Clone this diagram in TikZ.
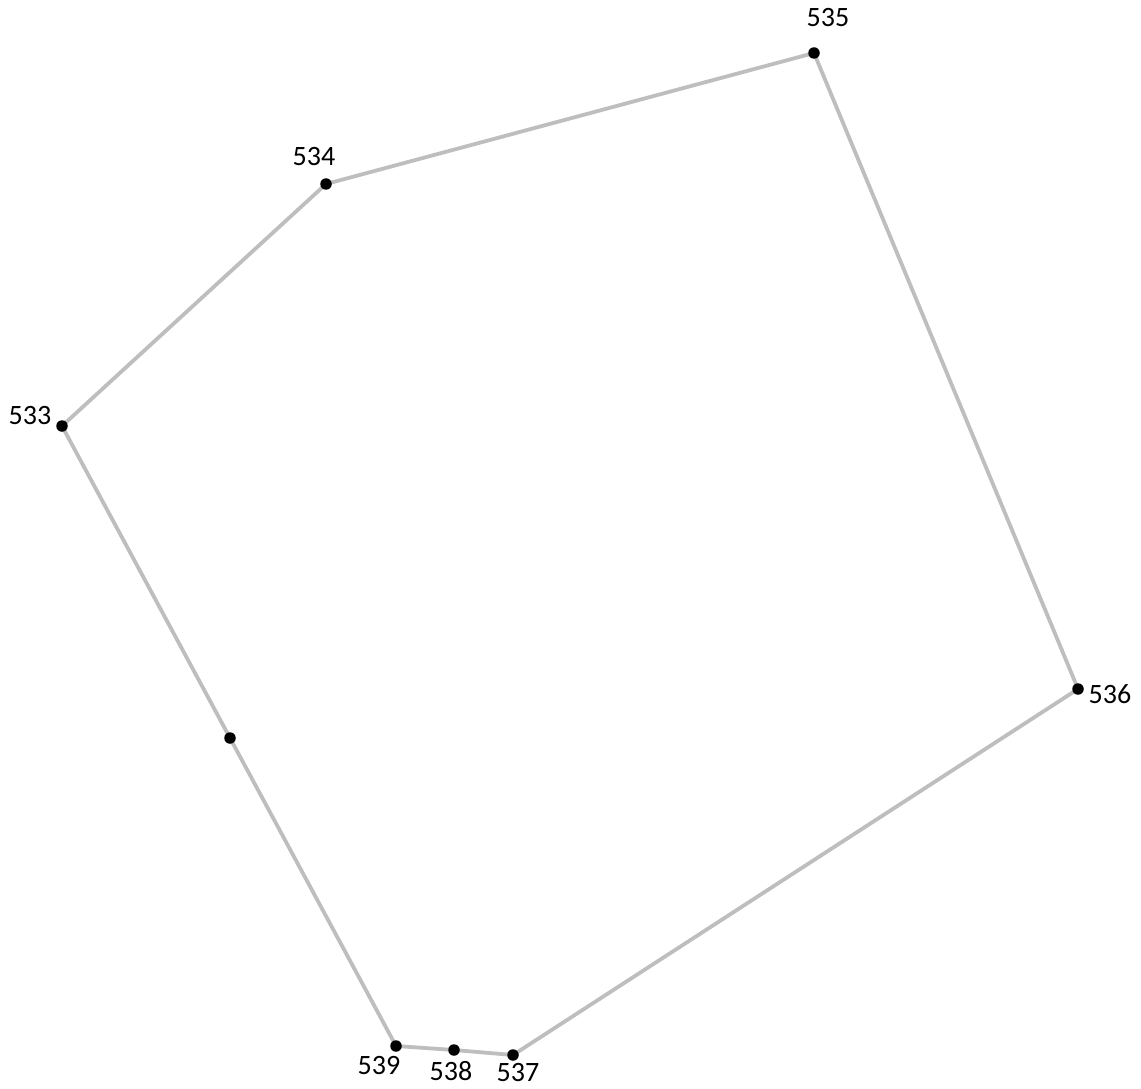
\documentclass[tikz,border=0pt]{standalone}
\usepackage{fontspec}
\setmainfont{Carlito}
\begin{document}
\begin{tikzpicture}[x=1pt,y=-1pt,
  pt/.style={circle,fill=black,inner sep=0pt,minimum size=11.5pt},
  lbl/.style={font=\fontsize{28}{32}\selectfont,inner sep=0pt,anchor=center},
  edge/.style={draw={rgb,255:red,190;green,190;blue,190},line width=3.8pt}]
\useasboundingbox (0,0) rectangle (1141,1089);
\coordinate (p535) at (814,53);
\coordinate (p534) at (326,184);
\coordinate (p533) at (62,426);
\coordinate (pX) at (230,738);
\coordinate (p539) at (396,1046);
\coordinate (p538) at (454,1050);
\coordinate (p537) at (513,1055);
\coordinate (p536) at (1078,689);
\draw[edge] (p533) -- (p534) -- (p535) -- (p536) -- (p537) -- (p538) -- (p539) -- (pX) -- (p533);
\foreach \n in {p535,p534,p533,pX,p539,p538,p537,p536}
  \node[pt] (d\n) at (\n) {};
\node[lbl] (l535) at (828,18) {535};
\node[lbl] (l534) at (314,157) {534};
\node[lbl] (l533) at (30,416) {533};
\node[lbl] (l536) at (1110,694) {536};
\node[lbl] (l537) at (518,1073) {537};
\node[lbl] (l538) at (451,1071) {538};
\node[lbl] (l539) at (379,1066) {539};
\end{tikzpicture}
\end{document}
